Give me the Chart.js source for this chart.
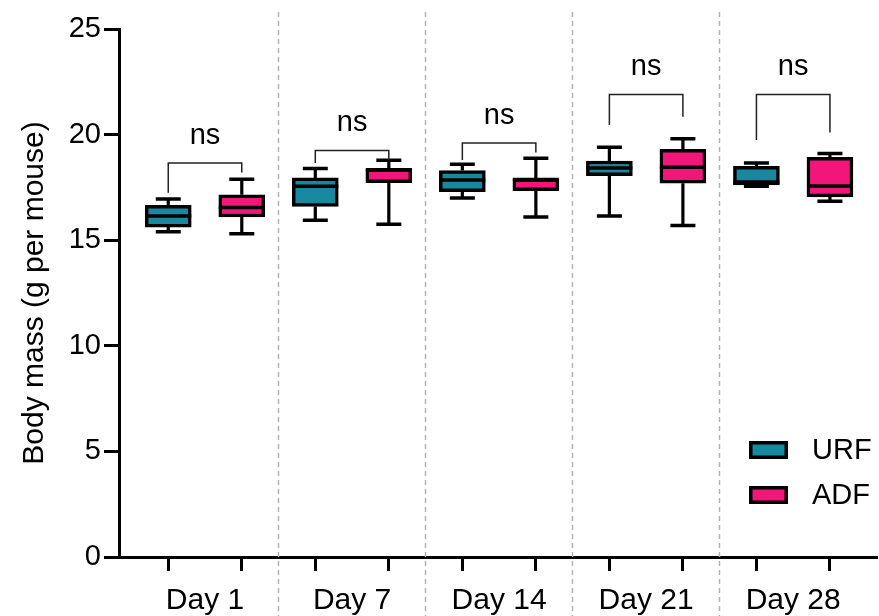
<!DOCTYPE html>
<html>
<head>
<meta charset="utf-8">
<script src="https://cdn.jsdelivr.net/npm/chart.js@4.4.1/dist/chart.umd.min.js"></script>
<style>
  html, body { margin: 0; padding: 0; background: #fff; }
  #wrap { width: 879px; height: 616px; }
</style>
</head>
<body>
<div id="wrap"><canvas id="chart" width="879" height="616"></canvas></div>
<script>
// group labels and y ticks
const days = ['Day 1', 'Day 7', 'Day 14', 'Day 21', 'Day 28'];
const yTicks = [0, 5, 10, 15, 20, 25];

// URF box plot values (g per mouse)
const urfMin = [15.4, 15.95, 17.0, 16.15, 17.55];
const urfQ1 = [15.62, 16.6, 17.3, 18.05, 17.62];
const urfMedian = [16.15, 17.55, 17.85, 18.42, 17.75];
const urfQ3 = [16.65, 17.95, 18.3, 18.75, 18.5];
const urfMax = [16.95, 18.4, 18.6, 19.4, 18.65];

// ADF box plot values
const adfMin = [15.3, 15.75, 16.1, 15.7, 16.85];
const adfQ1 = [16.1, 17.72, 17.35, 17.7, 17.05];
const adfMedian = [16.55, 18.33, 17.87, 18.45, 17.57];
const adfQ3 = [17.15, 18.38, 17.9, 19.3, 18.92];
const adfMax = [17.88, 18.78, 18.88, 19.8, 19.1];

// significance brackets
const bracketTop = [18.65, 19.25, 19.6, 21.9, 21.9];
const bracketLeftEnd = [17.25, 18.65, 18.8, 20.45, 19.75];
const bracketRightEnd = [18.2, 18.8, 19.15, 20.85, 20.1];
const sigLabels = ['ns', 'ns', 'ns', 'ns', 'ns'];

const TEAL = '#17889f';
const PINK = '#f2167b';
const FONT = '"Liberation Sans", Arial, sans-serif';

const urfPos = days.map((d, i) => i * 2);
const adfPos = days.map((d, i) => i * 2 + 1);

const series = [
    { label: 'URF', color: TEAL, pos: urfPos, min: urfMin, q1: urfQ1, med: urfMedian, q3: urfQ3, max: urfMax },
    { label: 'ADF', color: PINK, pos: adfPos, min: adfMin, q1: adfQ1, med: adfMedian, q3: adfQ3, max: adfMax }
];

// whiskers, medians, brackets, separators and legend
const boxExtras = {
    id: 'boxExtras',
    beforeDatasetsDraw(chart) {
        const { ctx, scales: { x } } = chart;
        ctx.save();
        ctx.strokeStyle = '#b3b3b3';
        ctx.lineWidth = 1.5;
        ctx.setLineDash([5, 4]);
        for (let i = 0; i < days.length - 1; i++) {
            const px = Math.round(x.getPixelForValue(i * 2 + 1.5)) - 0.5;
            ctx.beginPath();
            ctx.moveTo(px, 12);
            ctx.lineTo(px, 616);
            ctx.stroke();
        }
        ctx.restore();
    },
    afterDatasetsDraw(chart) {
        const { ctx, scales: { x, y } } = chart;
        ctx.save();
        ctx.strokeStyle = '#000';
        ctx.lineCap = 'butt';
        series.forEach((s, k) => {
            const meta = chart.getDatasetMeta(k);
            s.pos.forEach((p, i) => {
                const px = x.getPixelForValue(p);
                const w = meta.data[i].width;
                const capW = 25;
                // whiskers
                ctx.lineWidth = 3.2;
                ctx.beginPath();
                ctx.moveTo(px, y.getPixelForValue(s.q3[i]));
                ctx.lineTo(px, y.getPixelForValue(s.max[i]));
                ctx.moveTo(px, y.getPixelForValue(s.q1[i]));
                ctx.lineTo(px, y.getPixelForValue(s.min[i]));
                ctx.stroke();
                ctx.lineWidth = 3.5;
                ctx.beginPath();
                ctx.moveTo(px - capW / 2, y.getPixelForValue(s.max[i]));
                ctx.lineTo(px + capW / 2, y.getPixelForValue(s.max[i]));
                ctx.moveTo(px - capW / 2, y.getPixelForValue(s.min[i]));
                ctx.lineTo(px + capW / 2, y.getPixelForValue(s.min[i]));
                // median
                ctx.moveTo(px - w / 2, y.getPixelForValue(s.med[i]));
                ctx.lineTo(px + w / 2, y.getPixelForValue(s.med[i]));
                ctx.stroke();
            });
        });

        // brackets with labels
        ctx.lineWidth = 1.5;
        ctx.strokeStyle = '#222';
        ctx.fillStyle = '#000';
        ctx.font = '29px ' + FONT;
        ctx.textAlign = 'center';
        ctx.textBaseline = 'middle';
        days.forEach((d, i) => {
            const xl = x.getPixelForValue(urfPos[i]);
            const xr = x.getPixelForValue(adfPos[i]);
            const yt = y.getPixelForValue(bracketTop[i]);
            ctx.beginPath();
            ctx.moveTo(xl, y.getPixelForValue(bracketLeftEnd[i]));
            ctx.lineTo(xl, yt);
            ctx.lineTo(xr, yt);
            ctx.lineTo(xr, y.getPixelForValue(bracketRightEnd[i]));
            ctx.stroke();
            ctx.fillText(sigLabels[i], (xl + xr) / 2, yt - 27);
        });

        // legend
        ctx.textAlign = 'left';
        series.forEach((s, k) => {
            const ly = 441 + k * 45;
            ctx.fillStyle = s.color;
            ctx.fillRect(749, ly, 39, 18);
            ctx.lineWidth = 3.5;
            ctx.strokeStyle = '#000';
            ctx.strokeRect(750.75, ly + 1.75, 35.5, 14.5);
            ctx.fillStyle = '#000';
            ctx.fillText(s.label, 812, ly + 10);
        });
        ctx.restore();
    }
};

const ctx = document.getElementById('chart').getContext('2d');
const chart = new Chart(ctx, {
    type: 'bar',
    data: {
        datasets: series.map(s => ({
            label: s.label,
            data: s.pos.map((p, i) => ({ x: p, y: [s.q1[i], s.q3[i]] })),
            backgroundColor: s.color,
            borderColor: '#000',
            borderWidth: 3.5,
            borderSkipped: false,
            barThickness: 46,
            grouped: false
        }))
    },
    options: {
        responsive: false,
        animation: false,
        layout: { padding: { top: 29, right: 2, left: 0, bottom: 0 } },
        plugins: {
            legend: { display: false },
            tooltip: { enabled: false }
        },
        scales: {
            x: {
                type: 'linear',
                offset: false,
                min: -0.67,
                max: 9.64,
                afterBuildTicks: scale => {
                    const vals = [];
                    for (let v = 0; v <= 9; v += 0.5) vals.push({ value: v });
                    scale.ticks = vals;
                },
                afterFit: scale => { scale.height = 59; },
                ticks: {
                    autoSkip: false,
                    maxRotation: 0,
                    padding: 12,
                    color: '#000',
                    font: { family: FONT, size: 30 },
                    callback: v => ((v - 0.5) % 2 === 0 ? days[(v - 0.5) / 2] : '')
                },
                grid: {
                    offset: false,
                    drawOnChartArea: false,
                    tickLength: 14,
                    tickWidth: 3,
                    tickColor: c => (!c.tick || Number.isInteger(c.tick.value) ? '#000' : 'rgba(0,0,0,0)')
                },
                border: { color: '#000', width: 3 }
            },
            y: {
                min: 0,
                max: 25,
                afterBuildTicks: scale => { scale.ticks = yTicks.map(v => ({ value: v })); },
                afterFit: scale => { scale.width = 119; },
                ticks: {
                    padding: 3,
                    color: '#000',
                    font: { family: FONT, size: 29 }
                },
                grid: {
                    drawOnChartArea: false,
                    tickLength: 15,
                    tickWidth: 3,
                    tickColor: '#000'
                },
                border: { color: '#000', width: 3 },
                title: {
                    display: true,
                    text: 'Body mass (g per mouse)',
                    color: '#000',
                    font: { family: FONT, size: 30 },
                    padding: { top: 17, bottom: 0 }
                }
            }
        }
    },
    plugins: [boxExtras]
});
</script>
</body>
</html>
